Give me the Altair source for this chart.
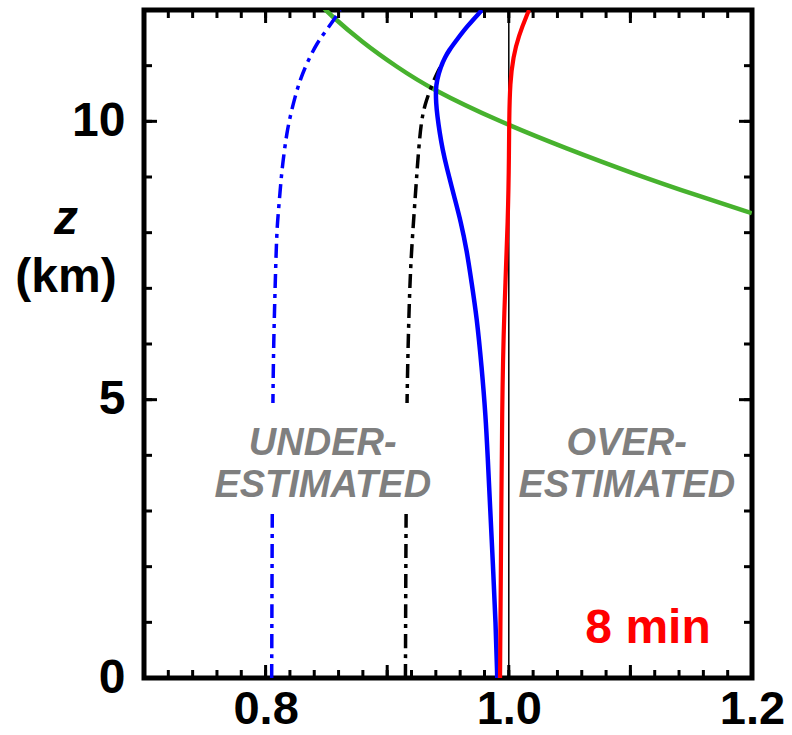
import altair as alt
import pandas as pd

# ---------------- data ----------------
blue_dd_z = [0, 2, 4, 5, 6, 7, 7.99, 8.35, 8.71, 9.07, 9.42, 9.78, 10.08, 10.44, 10.74, 11.04, 11.40, 11.64, 11.94, 12.0]
blue_dd_x = [0.805, 0.8053, 0.8057, 0.806, 0.8066, 0.8078, 0.8091, 0.8104, 0.8118, 0.8132, 0.8151, 0.8174, 0.8201,
             0.8242, 0.8283, 0.8338, 0.8420, 0.8502, 0.8597, 0.8612]

black_dd_z = [0, 2, 4, 5, 6, 7, 7.69, 8.59, 9.0, 9.48, 10.0, 10.3, 10.58, 10.85, 11.05]
black_dd_x = [0.915, 0.9153, 0.9158, 0.9163, 0.9172, 0.9185, 0.920, 0.9229, 0.9242, 0.9258, 0.928, 0.931, 0.9355,
              0.9405, 0.9455]

blue_z = [0, 1, 2, 3, 4, 4.69, 5.59, 6.49, 7.09, 7.69, 8.2, 8.59, 9.18, 9.5, 9.79, 10.1, 10.33, 10.55, 10.74, 10.98,
          11.15, 11.28, 11.46, 11.70, 11.97, 12.0]
blue_x = [0.9905, 0.9892, 0.9870, 0.9848, 0.9826, 0.981, 0.9777, 0.9736, 0.9695, 0.9654, 0.9605, 0.9558, 0.9488,
          0.9455, 0.9432, 0.9412, 0.9402, 0.9399, 0.9408, 0.9440, 0.9475, 0.9510, 0.9571, 0.9654, 0.9767, 0.978]

red_z = [0, 2, 5, 6.5, 8.3, 9.5, 10.0, 10.7, 11.16, 11.52, 11.97, 12.0]
red_x = [0.9928, 0.9935, 0.9945, 0.996, 0.9995, 1.0002, 1.0003, 1.001, 1.0037, 1.0078, 1.016, 1.0168]

green_z = [12.05, 11.97, 11.40, 10.98, 10.59, 9.99, 9.51, 9.06, 8.65, 8.35]
green_x = [0.8475, 0.8503, 0.8804, 0.9078, 0.9352, 0.9928, 1.0476, 1.1024, 1.1572, 1.1998]

x_labels = [0.8, 1.0, 1.2]
y_labels = [0, 5, 10]
x_minor = [round(0.70 + 0.02 * i, 2) for i in range(26)]
x_major = [0.7, 0.8, 0.9, 1.0, 1.1, 1.2]
y_minor = list(range(0, 13))
y_major = [0, 5, 10]

# ---------------- layout ----------------
W, H = 608, 668
FONT = "Liberation Sans"

xsc = alt.Scale(domain=[0.7, 1.2], nice=False, zero=False)
ysc = alt.Scale(domain=[0, 12], nice=False, zero=False)

xaxis = alt.Axis(values=x_labels, format=".1f", title=None, grid=False, ticks=False, domain=False,
                 labelFont=FONT, labelFontSize=47, labelFontWeight="bold", labelColor="black",
                 labelPadding=8, labelFlush=False, labelOverlap=False)
yaxis = alt.Axis(values=y_labels, format="d", title=None, grid=False, ticks=False, domain=False,
                 labelFont=FONT, labelFontSize=48, labelFontWeight="bold", labelColor="black",
                 labelPadding=19, labelFlush=False, labelOverlap=False)


def X(field="x"):
    return alt.X(f"{field}:Q", scale=xsc, axis=xaxis)


def Y(field="z"):
    return alt.Y(f"{field}:Q", scale=ysc, axis=yaxis)


def curve(xs, zs, color, width, dash=None):
    df = pd.DataFrame({"x": xs, "z": zs, "i": list(range(len(xs)))})
    kw = dict(color=color, strokeWidth=width, interpolate="basis", clip=True)
    if dash is not None:
        kw["strokeDash"] = dash
    return alt.Chart(df).mark_line(**kw).encode(x=X(), y=Y(), order="i:Q")


one = alt.Chart(pd.DataFrame({"x": [1.0]})).mark_rule(color="black", strokeWidth=1.5).encode(x=X())

green = curve(green_x, green_z, "#47b22e", 4.5)
blue_dd = curve(blue_dd_x, blue_dd_z, "#0000ff", 3.5, [14, 6, 4, 6])
black_dd = curve(black_dd_x, black_dd_z, "#000000", 3.5, [14, 6, 4, 6])
blue = curve(blue_x, blue_z, "#0000ff", 4.5)
red = curve(red_x, red_z, "#ff0000", 4.2)

box = alt.Chart(pd.DataFrame({"a": [0]})).mark_rect(color="white").encode(
    x=alt.datum(0.755, scale=xsc), x2=alt.datum(0.94),
    y=alt.datum(2.96, scale=ysc), y2=alt.datum(4.94))

gray = "#7f7f7f"


def label(text, x, z, size, color, italic=True):
    return alt.Chart(pd.DataFrame({"a": [0]})).mark_text(
        text=text, font=FONT, fontSize=size, fontWeight="bold",
        fontStyle="italic" if italic else "normal", color=color,
        align="center", baseline="alphabetic").encode(
        x=alt.datum(x, scale=xsc), y=alt.datum(z, scale=ysc))


t1 = label("UNDER-", 0.847, 4.0, 38, gray)
t2 = label("ESTIMATED", 0.847, 3.25, 38, gray)
t3 = label("OVER-", 1.097, 4.0, 38, gray)
t4 = label("ESTIMATED", 1.097, 3.25, 38, gray)
t5 = label("8 min", 1.1145, 0.62, 48, "#ff0000", italic=False)

ztitle = alt.Chart(pd.DataFrame({"a": [0]})).mark_text(
    text="z", font=FONT, fontSize=48, fontWeight="bold", fontStyle="italic", color="black",
    align="center", baseline="alphabetic").encode(x=alt.value(-78), y=alt.value(224))
kmtitle = alt.Chart(pd.DataFrame({"a": [0]})).mark_text(
    text="(km)", font=FONT, fontSize=48, fontWeight="bold", color="black",
    align="center", baseline="alphabetic").encode(x=alt.value(-78), y=alt.value(282))


def xticks(vals, length):
    df = pd.DataFrame({"t": vals})
    bot = alt.Chart(df).mark_rule(color="black", strokeWidth=3).encode(
        x=X("t"), y=alt.value(H), y2=alt.value(H - length))
    top = alt.Chart(df).mark_rule(color="black", strokeWidth=3).encode(
        x=X("t"), y=alt.value(0), y2=alt.value(length))
    return [bot, top]


def yticks(vals, length):
    df = pd.DataFrame({"t": vals})
    left = alt.Chart(df).mark_rule(color="black", strokeWidth=3).encode(
        y=Y("t"), x=alt.value(0), x2=alt.value(length))
    right = alt.Chart(df).mark_rule(color="black", strokeWidth=3).encode(
        y=Y("t"), x=alt.value(W), x2=alt.value(W - length))
    return [left, right]


layers = [one, green, blue_dd, black_dd, blue, red, box, t1, t2, t3, t4, t5, ztitle, kmtitle]
layers += xticks(x_minor, 8) + xticks(x_major, 13) + yticks(y_minor, 8) + yticks(y_major, 13)

chart = alt.layer(*layers).properties(
    width=W, height=H,
    padding={"left": 144, "top": 10, "right": 40, "bottom": 57},
    autosize=alt.AutoSizeParams(type="none"),
    background="white",
).configure_view(stroke="black", strokeWidth=5)

chart.save("out.html", embed_options={"renderer": "svg", "actions": False})
